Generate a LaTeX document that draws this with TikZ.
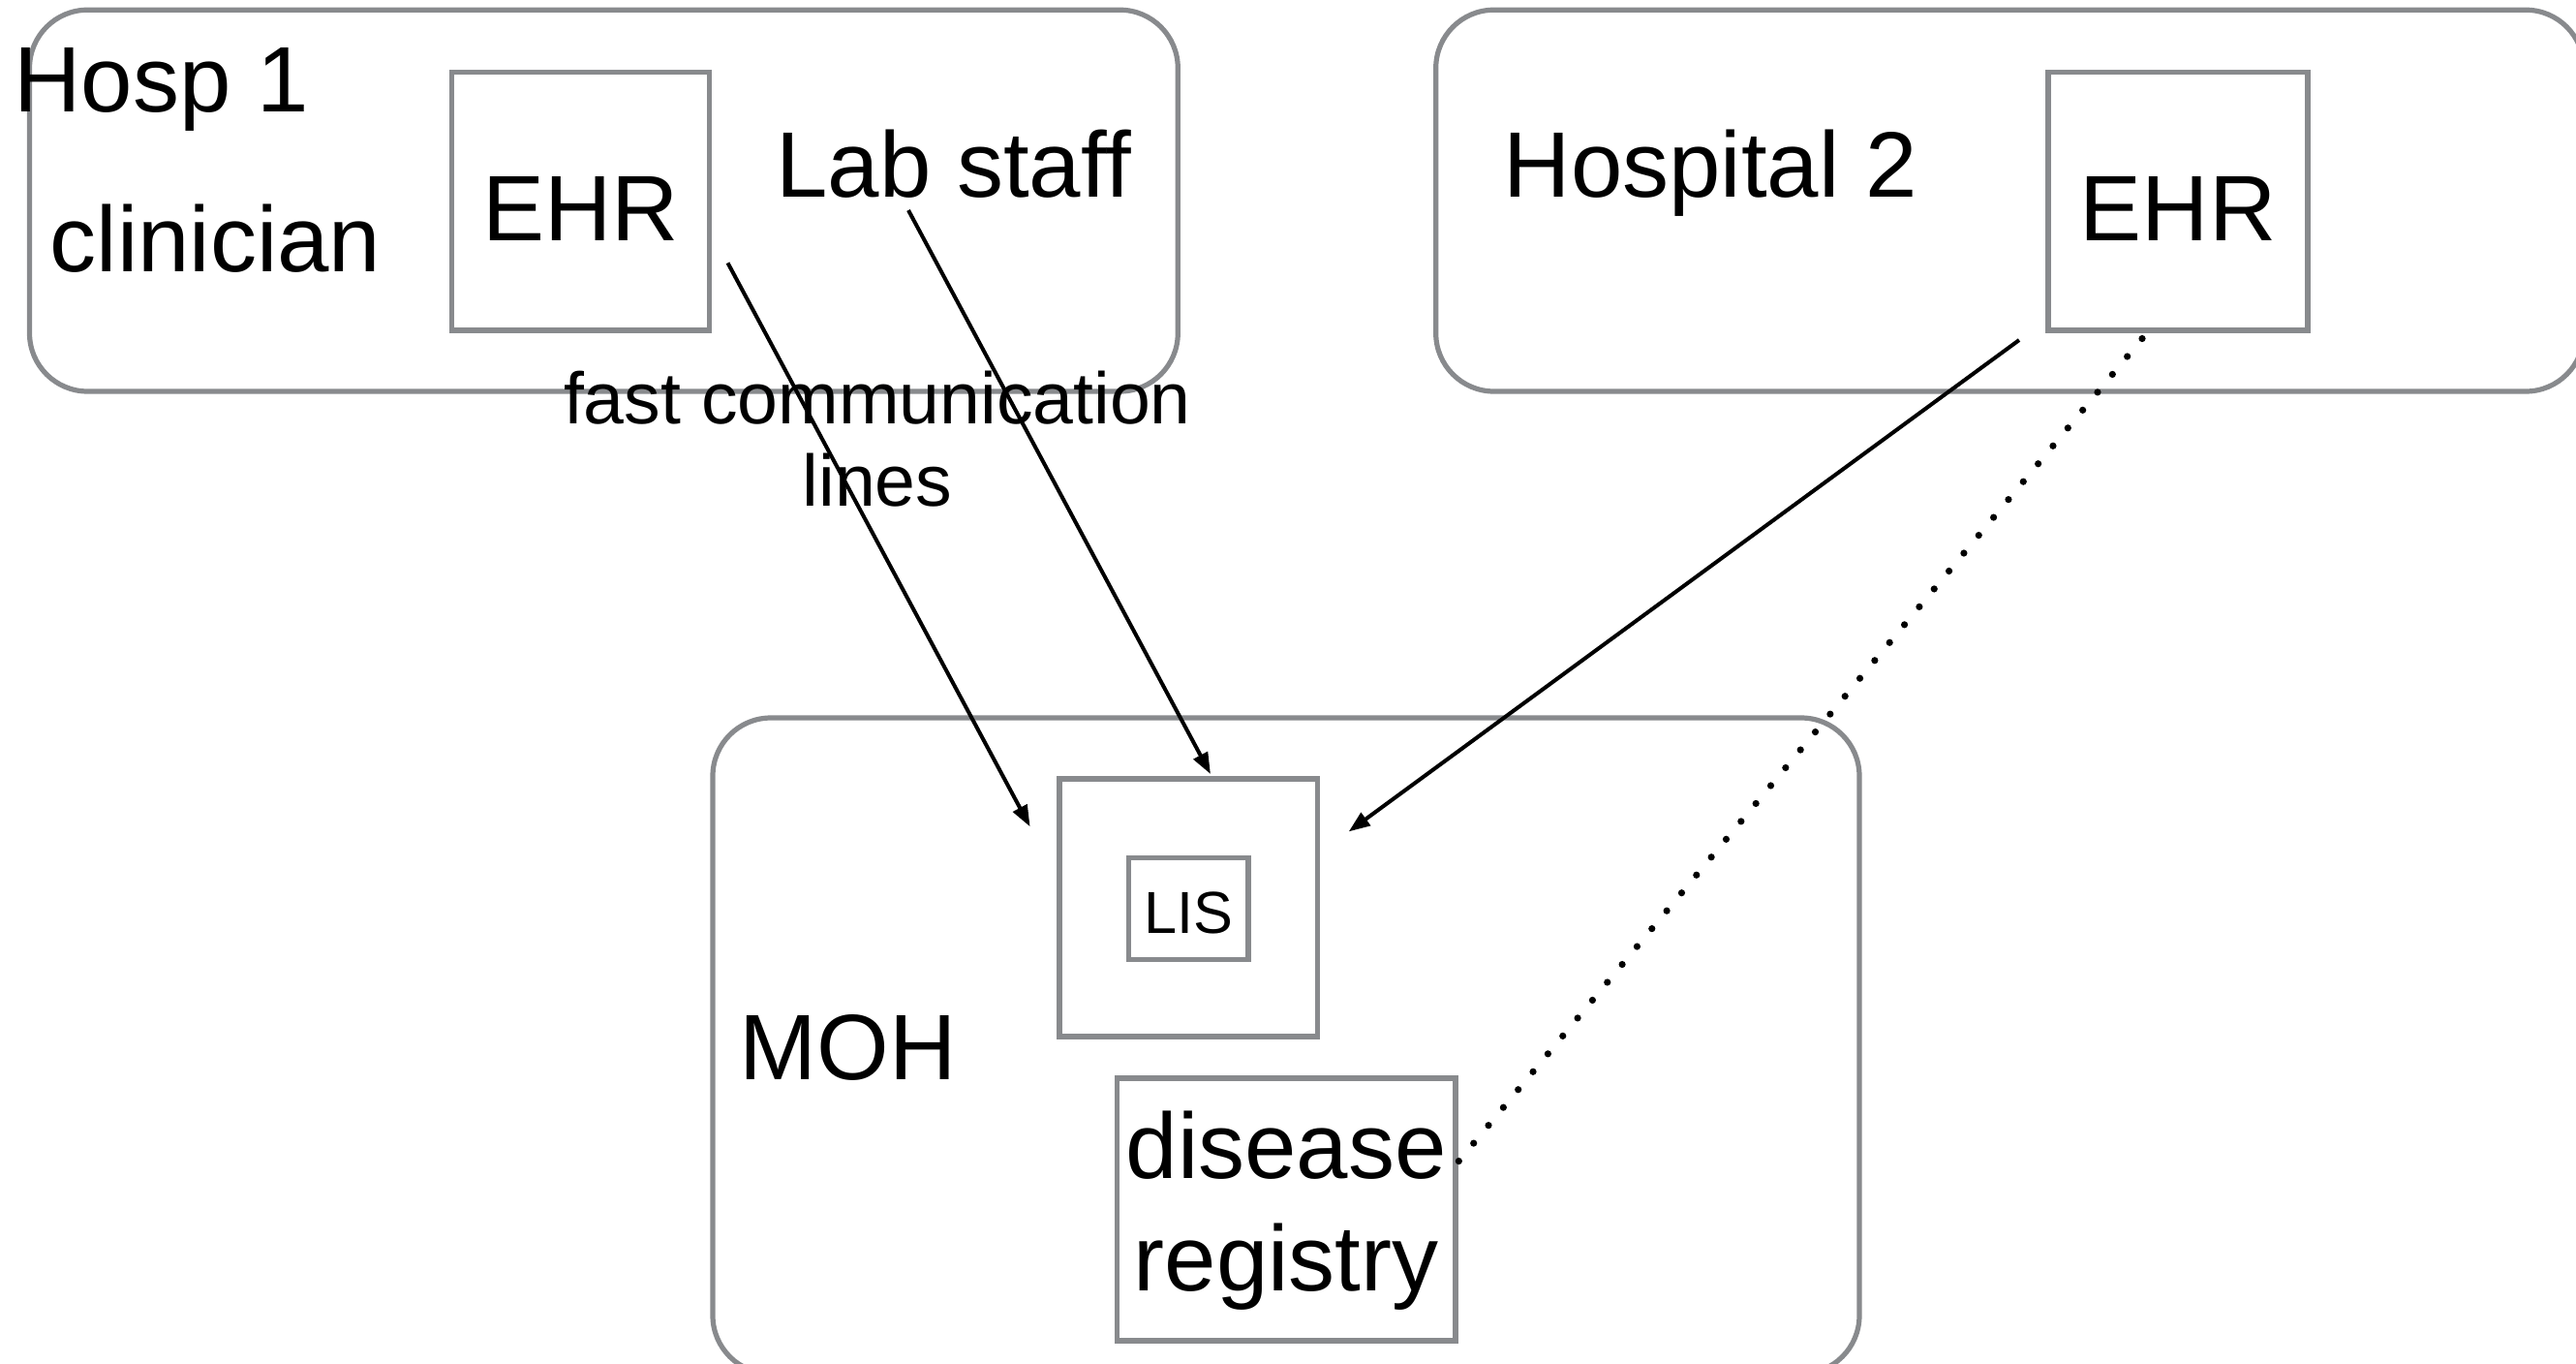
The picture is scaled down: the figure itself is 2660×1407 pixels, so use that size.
\documentclass[tikz,border=0pt]{standalone}
\usepackage{fontspec}
\setmainfont{Liberation Sans}
\usetikzlibrary{arrows.meta}
\definecolor{boxgray}{HTML}{888A8D}
\tikzset{
  grp/.style={draw=boxgray, line width=1.3pt, rounded corners=15pt},
  sysbox/.style={draw=boxgray, line width=1.3pt},
  big/.style={font=\fontsize{24}{28.75}\selectfont, inner sep=0pt},
  small/.style={font=\fontsize{18.8}{21.25}\selectfont, inner sep=0pt, align=center},
  lis/.style={font=\fontsize{15.3}{18}\selectfont, inner sep=0pt},
  conn/.style={line width=1pt, -{Triangle[length=5.5pt,width=4pt]}},
  dots/.style={line width=1.8pt, line cap=round, dash pattern=on 0pt off 6pt}
}
\begin{document}
\begin{tikzpicture}[x=0.25pt,y=-0.25pt]
\useasboundingbox (0,0) rectangle (2660,1407);
% group boxes
\draw[grp] (30.5,10.2) rectangle (1216.3,404);
\draw[grp] (1482.7,10.2) rectangle (2668,404);
\draw[grp] (736,741) rectangle (1920,1418);
% inner boxes
\node[sysbox, minimum width=66.5pt, minimum height=66.6pt, inner sep=0pt] (ehr1) at (599.6,207.8) {};
\node[sysbox, minimum width=67pt, minimum height=66.6pt, inner sep=0pt] (ehr2) at (2249,207.8) {};
\node[sysbox, minimum width=66.6pt, minimum height=66.5pt, inner sep=0pt] (lisouter) at (1227.2,937) {};
\node[sysbox, minimum width=30.9pt, minimum height=26.3pt, inner sep=0pt] (lisinner) at (1227.2,938.1) {};
\node[sysbox, minimum width=87.4pt, minimum height=67.75pt, inner sep=0pt] (reg) at (1328.2,1248.5) {};
% texts
\node[big, anchor=base west] (hosp1) at (13.6,115) {Hosp 1};
\node[big, anchor=base west] (clin) at (51,280) {clinician};
\node[big, anchor=base] (ehr1t) at (599.6,248) {EHR};
\node[big, anchor=base west] (lab) at (800.7,203.6) {Lab staff};
\node[big, anchor=base west] (hosp2) at (1552,203.6) {Hospital 2};
\node[big, anchor=base] (ehr2t) at (2249,248) {EHR};
\node[big, anchor=base west] (moh) at (763,1114.5) {MOH};
\node[lis, anchor=base] (list) at (1227.2,963.6) {LIS};
\node[big, anchor=base] (dis) at (1328.2,1216) {disease};
\node[big, anchor=base] (regt) at (1328.2,1332) {registry};
\node[small, anchor=base] (fast) at (906,437.7) {fast communication};
\node[small, anchor=base] (lines) at (906,522.5) {lines};
% connector end points
\coordinate (a1s) at (751.5,271.4);
\coordinate (a1e) at (1063.6,853.3);
\coordinate (a2s) at (938,217);
\coordinate (a2e) at (1250,799);
\coordinate (a3s) at (2085,351);
\coordinate (a3e) at (1392.7,858.4);
\coordinate (d1s) at (2212,349.5);
\coordinate (d1e) at (1496,1211);
\draw[conn] (a1s) -- (a1e);
\draw[conn] (a2s) -- (a2e);
\draw[conn] (a3s) -- (a3e);
\draw[dots] (d1s) -- (d1e);
\end{tikzpicture}
\end{document}
